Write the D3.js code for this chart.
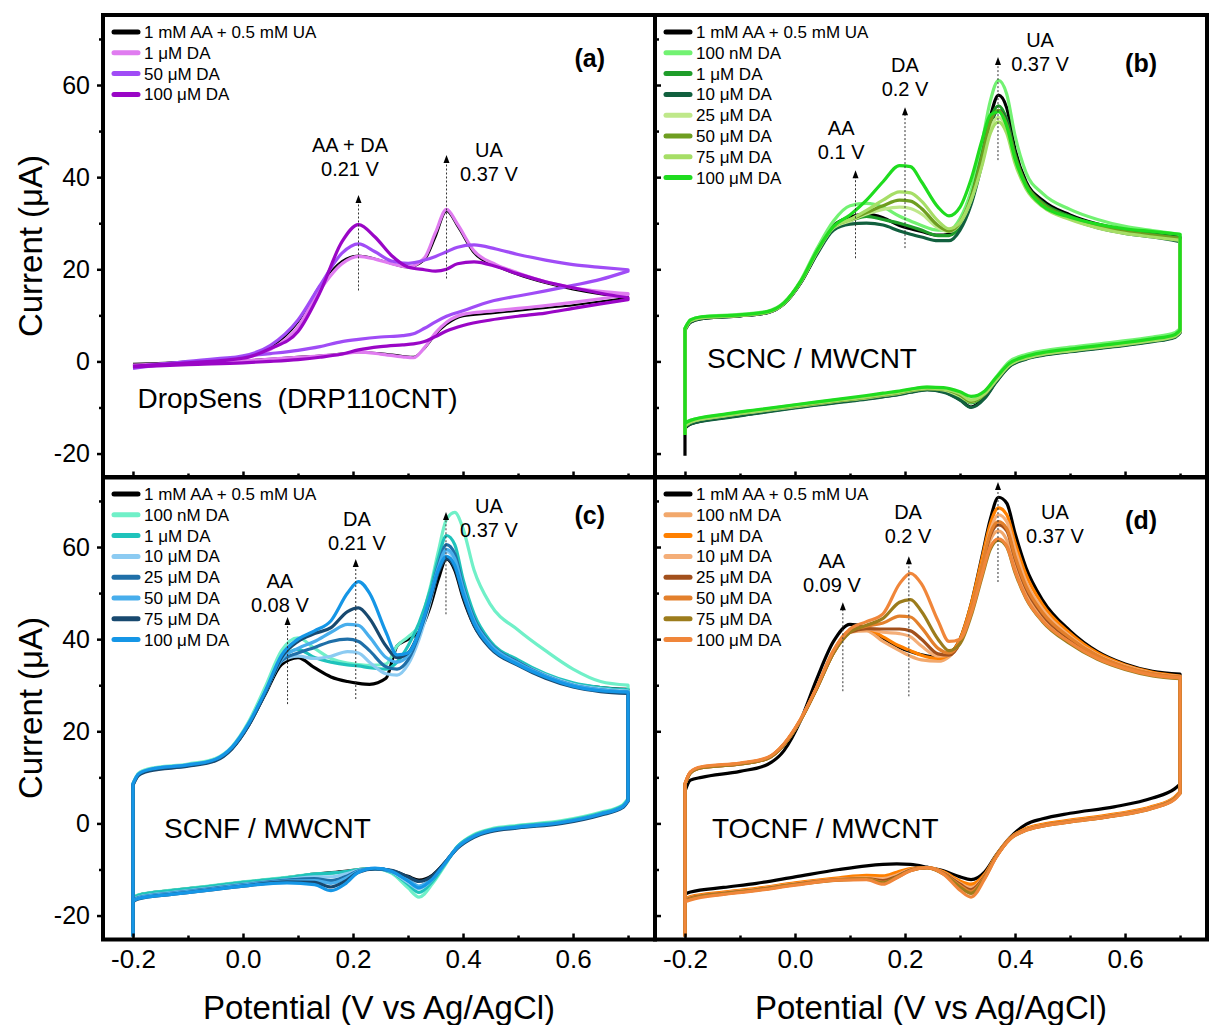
<!DOCTYPE html>
<html>
<head>
<meta charset="utf-8">
<script src="https://cdn.jsdelivr.net/npm/d3@7"></script>
<style>
body{margin:0;background:#fff;}
text{font-family:"Liberation Sans",Arial,sans-serif;fill:#000;}
</style>
</head>
<body>
<svg id="svg" width="1212" height="1025"></svg>
<script>
// potential grids (V vs Ag/AgCl), forward scan then reverse scan
var scanForwardA=[-0.2,-0.1,0.0,0.05,0.1,0.14,0.18,0.21,0.24,0.27,0.3,0.33,0.35,0.37,0.39,0.42,0.46,0.5,0.55,0.6,0.65,0.7];
var scanReverseA=[0.7,0.65,0.6,0.55,0.5,0.45,0.4,0.37,0.35,0.33,0.31,0.29,0.25,0.21,0.18,0.14,0.1,0.05,0.0,-0.1,-0.2];
var scanForward=[-0.2,-0.2,-0.19,-0.17,-0.1,-0.05,-0.02,0.01,0.04,0.07,0.1,0.13,0.16,0.19,0.21,0.23,0.26,0.28,0.3,0.32,0.34,0.355,0.37,0.385,0.4,0.42,0.45,0.5,0.55,0.6,0.65,0.7];
var scanReverse=[0.7,0.69,0.65,0.58,0.5,0.45,0.42,0.39,0.365,0.345,0.32,0.3,0.27,0.24,0.21,0.185,0.16,0.13,0.08,0.0,-0.07,-0.13,-0.19,-0.2];

// (a) DropSens, current in µA
var aBlank=[-0.5,0.0,1.0,3.0,8.5,16.5,21.8,23.0,22.3,21.2,20.4,22.0,27.0,32.6,29.3,23.5,20.7,18.8,17.0,15.6,14.6,14.0,
  13.8,13.0,12.2,11.6,11.0,10.4,9.8,8.0,5.8,2.8,1.0,1.2,1.8,2.0,1.7,1.3,1.0,0.6,0.2,-0.3,-0.8];
var a1uM=[-0.8,-0.2,0.8,2.6,7.5,15.5,21.2,22.8,22.2,21.2,20.5,22.5,28.0,33.0,29.8,24.0,21.0,19.2,17.3,16.0,15.2,14.7,
  14.5,13.6,12.8,12.1,11.5,10.9,10.2,8.5,6.2,3.0,0.8,1.0,1.6,2.0,1.6,1.2,0.9,0.5,0.1,-0.4,-0.9];
var a50uM=[-1.2,0.0,1.2,3.5,9.0,16.5,23.5,25.5,23.8,21.8,21.3,22.0,22.8,23.8,24.8,25.3,24.4,23.2,22.0,21.0,20.4,19.9,
  19.6,17.8,16.5,15.3,14.2,13.0,11.0,9.8,8.6,7.2,6.0,5.6,5.3,4.8,4.3,3.2,2.4,1.7,1.1,0.0,-1.5];
var a100uM=[-1.0,-0.3,0.7,2.8,6.5,15.0,26.0,29.7,27.0,23.0,20.5,19.9,19.6,20.0,21.2,21.6,20.6,19.0,17.3,16.0,14.8,13.8,
  13.4,12.5,11.5,10.5,9.8,9.0,7.8,6.6,5.4,4.3,3.8,3.6,3.2,2.5,1.6,0.9,0.4,0.0,-0.3,-0.7,-1.2];

// (b) SCNC / MWCNT
var bBlank=[-20.5,6.8,8.5,9.3,9.9,10.6,12.5,17,23.5,29.5,31.3,32,31.2,29.5,28.8,28.2,27.4,27.6,29.5,35,44.5,53,57.8,55,46,39,35,31.8,29.8,28.5,27.8,27,
  6.3,5.3,4.4,3.3,2.2,1.4,0.6,-1.0,-4.5,-7.8,-9.9,-8.3,-6.6,-6.1,-6.6,-7.2,-7.6,-8.1,-8.8,-10.0,-11.2,-12.2,-13.6,-14.5];
var b100nM=[-16,7.2,9.0,9.7,10.2,10.9,12.8,17.5,24.5,30.5,33.8,34.3,33.5,31.5,30.5,29.5,28.5,28.5,31,37,47.5,56.5,61,58,49,41,36.5,33,30.8,29.3,28.4,27.6,
  7.2,6.2,5.3,4.2,3.1,2.3,1.5,0,-3.5,-6.6,-8.4,-7.2,-6.0,-5.6,-6.1,-6.7,-7.1,-7.6,-8.3,-9.5,-10.6,-11.6,-12.8,-13.5];
var b1uM=[-16,7,8.7,9.5,10,10.7,12.6,17.2,23.8,29,30.5,31.5,30.8,30,29.3,28.5,27.3,27.3,29.5,35.5,45,52.5,55.5,52.5,45,38.5,34.5,31.5,29.6,28.4,27.6,26.8,
  6.6,5.6,4.7,3.6,2.5,1.7,0.9,-0.6,-4.0,-7.2,-9.0,-7.7,-6.3,-5.9,-6.4,-7.0,-7.4,-7.9,-8.6,-9.8,-10.9,-11.9,-13.2,-14];
var b10uM=[-16,6.8,8.5,9.3,9.9,10.6,12.5,17,23.3,28.5,29.8,30,29.6,28.3,27.6,27,26.2,26.2,28.5,34,43,51,54.5,52,44.5,38,34,31,29,27.8,27,26,
  6.2,5.2,4.3,3.2,2.1,1.3,0.5,-1.1,-4.6,-8.0,-10.0,-8.4,-6.7,-6.2,-6.7,-7.3,-7.7,-8.2,-8.9,-10.1,-11.3,-12.3,-13.6,-14.2];
var b25uM=[-16,7,8.8,9.5,10,10.7,12.6,17.2,23.8,29,30.5,32,33,33.5,33.2,32,29,28.2,30,35,43.5,50.5,53,50.5,44,38,34,31,29.2,28,27.2,26.5,
  6.6,5.6,4.7,3.6,2.5,1.7,0.9,-0.6,-4.0,-7.0,-8.8,-7.5,-6.2,-5.9,-6.4,-7.0,-7.4,-7.9,-8.6,-9.8,-10.9,-11.9,-13.2,-14];
var b50uM=[-16,7,8.8,9.5,10,10.7,12.6,17.2,23.8,29.2,30.8,32.3,33.8,35,34.8,33.2,29.5,28.3,30.2,35.5,44.5,52,54.5,51.5,44.5,38.3,34.2,31.2,29.4,28.2,27.4,26.7,
  6.5,5.5,4.6,3.5,2.4,1.6,0.8,-0.7,-4.1,-7.1,-8.7,-7.3,-6.1,-5.9,-6.3,-6.9,-7.3,-7.8,-8.5,-9.7,-10.8,-11.8,-13.1,-14];
var b75uM=[-16,7,8.8,9.5,10,10.7,12.6,17.2,23.8,29.2,30.8,32.8,35,36.8,36.6,34.8,30.5,28.8,30.2,35,42.5,49.5,52,49.5,43,37.5,33.6,30.8,29,27.8,27,26.3,
  6.4,5.4,4.5,3.4,2.3,1.5,0.7,-0.8,-4.2,-7.0,-8.4,-7.0,-6.0,-5.8,-6.2,-6.8,-7.2,-7.7,-8.4,-9.6,-10.8,-11.8,-13.1,-14];
var b100uM=[-16,7.2,9.0,9.7,10.1,10.8,12.7,17.3,24,29.3,31.8,35,39,42.5,42.3,39,33.5,31.6,33.5,39.5,48,53.5,54.2,51,44,38,33.8,31.3,29.8,28.8,28.2,27.6,
  6.8,5.8,4.9,3.8,2.7,1.9,1.1,-0.4,-3.6,-6.4,-7.6,-6.6,-5.7,-5.6,-6.0,-6.5,-6.9,-7.4,-8.2,-9.4,-10.5,-11.5,-12.8,-13.4];

// (c) SCNF / MWCNT
var cBlank=[-24.5,8.5,10.6,11.6,12.6,13.8,16.3,21.3,28,34.5,36,33.8,31.8,30.8,30.4,30.2,31.5,38.5,40,41.5,47,53,57.4,55,49,43,38.3,34.8,32.2,30.3,29.5,29.1,
  5.0,3.6,2.0,0.2,-0.8,-1.6,-2.8,-5.2,-8.8,-11.2,-12.3,-11.5,-10.3,-9.8,-10.0,-10.4,-10.7,-11.0,-11.8,-12.8,-13.8,-14.6,-15.6,-16.2];
var c100nM=[-24.5,8.7,10.9,11.9,12.9,14.1,16.7,22,29.5,37.5,40.3,38,35.8,34.8,34.5,34.3,34.6,38.5,40.5,43,51,59,66,67.5,64,55,47.5,42,37.5,33.5,30.8,30,
  5.4,4.0,2.4,0.6,-0.4,-1.2,-2.4,-5.0,-9.5,-13.0,-16.0,-14.0,-10.8,-9.8,-10.0,-10.5,-10.8,-11.0,-11.7,-12.7,-13.7,-14.5,-15.5,-16.0];
var c1uM=[-24.5,8.5,10.7,11.7,12.7,13.9,16.5,21.6,28.5,35.5,37.8,36,35,34.4,34.2,33.8,33.5,35,38.5,43.5,50.5,57.5,62.5,60.5,53,45.5,39.5,35.5,32.5,30.5,29.5,29,
  5.2,3.8,2.2,0.4,-0.6,-1.4,-2.6,-5.0,-9.2,-12.5,-15.0,-13.2,-10.6,-9.8,-10.0,-10.5,-10.8,-11.0,-11.8,-12.8,-13.8,-14.6,-15.6,-16.2];
var c10uM=[-24.5,8.5,10.7,11.7,12.7,13.9,16.5,21.5,28.3,35.2,36.3,35.8,36.3,37.3,37,35,32.5,32.2,34.5,40,48,55,59,57,50.5,44,38.8,35,32.2,30.2,29.2,28.7,
  5.0,3.6,2.0,0.2,-0.8,-1.6,-2.8,-5.2,-9.0,-12.0,-14.2,-12.8,-10.5,-9.8,-10.2,-11.0,-11.6,-11.6,-12.2,-13.2,-14.2,-15.0,-16.0,-16.6];
var c25uM=[-24.5,8.5,10.6,11.6,12.6,13.8,16.4,21.4,28.2,35.3,37,38.2,39.5,40,39.5,37.5,34,33.5,35.5,41,49,56,60.5,58.5,51.5,44.5,39,35,32,30,29,28.5,
  5.0,3.6,2.0,0.2,-0.8,-1.6,-2.8,-5.2,-8.9,-11.8,-13.8,-12.4,-10.4,-9.8,-10.3,-11.6,-12.4,-12.0,-12.3,-13.3,-14.3,-15.1,-16.1,-16.7];
var c50uM=[-24.5,8.5,10.6,11.6,12.6,13.8,16.4,21.5,28.4,35.6,38,39.5,41.5,43.2,43,40.5,36,35,36.5,41.5,49,55.5,59.5,57.5,51,44,38.8,34.8,32,30,29,28.5,
  5.0,3.6,2.0,0.2,-0.8,-1.6,-2.8,-5.2,-8.9,-11.8,-13.6,-12.2,-10.3,-9.8,-10.4,-12.0,-13.0,-12.4,-12.5,-13.4,-14.4,-15.2,-16.2,-16.8];
var c75uM=[-24.5,8.3,10.4,11.4,12.4,13.6,16.2,21.2,28.2,36,39.5,41.2,42.5,46,46.8,44.5,38.5,36,37,41.5,48.5,54.5,57.5,55.5,49.5,43,38,34.3,31.5,29.6,28.6,28.2,
  4.8,3.4,1.8,0.0,-1.0,-1.8,-3.0,-5.4,-8.8,-11.3,-12.6,-11.6,-10.2,-9.9,-10.6,-12.6,-13.8,-12.8,-12.7,-13.6,-14.6,-15.4,-16.4,-17.0];
var c100uM=[-24.5,8.5,10.7,11.7,12.7,13.9,16.5,21.6,28.6,36.5,40,41.8,44,50,52.5,50,41.5,36.6,37,41.5,49,55,58,56,50,43.5,38.3,34.5,31.8,29.8,28.8,28.5,
  5.0,3.6,2.0,0.2,-0.8,-1.6,-2.8,-5.2,-9.0,-12.0,-14.0,-12.5,-10.4,-9.7,-10.6,-13.2,-14.6,-13.3,-12.9,-13.6,-14.6,-15.4,-16.3,-16.9];

// (d) TOCNF / MWCNT
var dBlank=[-24.5,7,9.4,10.0,11.3,12.8,15.8,22.3,31.5,39.5,43.2,42.5,40.2,38.2,37.3,36.6,36.1,36.8,40,47.5,58,66,70.8,69.5,63,55.5,48.5,41.8,37.3,34.6,33,32.4,
  8.5,7.5,5.5,3.6,2.2,1.0,-0.2,-3.2,-7.0,-10.5,-12.2,-11.6,-10.3,-9.5,-8.9,-8.8,-8.9,-9.2,-10.0,-11.6,-13.0,-13.9,-14.9,-15.3];
var d100nM=[-24.5,8.5,11.0,12.1,12.9,14.1,17.1,22.4,29.5,37,41.5,41.8,39.5,37.5,36.3,35.5,35.2,36.2,39.5,46.5,55.5,61.5,63.5,61.5,56,50,44.8,39.8,36.3,34,32.4,31.8,
  6.8,5.6,3.6,1.9,0.6,-0.3,-1.2,-3.3,-7.2,-11.2,-13.6,-12.8,-10.6,-9.6,-10.0,-11.0,-11.8,-11.6,-12.0,-13.0,-14.2,-15.0,-16.0,-16.5];
var d1uM=[-24.5,8.5,11.1,12.2,13,14.2,17.2,22.5,29.6,37.5,41.8,42.3,40.5,38.5,37.5,36.5,35.8,36.7,40,47.5,57.5,65,68.5,67,61,54,47.5,41.3,37,34.4,32.8,32,
  6.9,5.7,3.7,2.0,0.7,-0.2,-1.1,-3.3,-7.1,-11.0,-13.2,-12.5,-10.5,-9.6,-9.8,-10.6,-11.4,-11.3,-11.8,-12.9,-14.1,-14.9,-15.9,-16.4];
var d10uM=[-24.5,8.5,11.0,12.1,12.9,14.1,17.1,22.4,29.5,37.2,41.6,42.2,41.5,41.2,40.5,38.5,36.3,36.5,39.5,46.5,56,63.5,67,65.5,59.5,52.5,46.5,40.6,36.6,34.2,32.6,31.9,
  6.7,5.5,3.5,1.8,0.5,-0.4,-1.3,-3.4,-7.3,-11.3,-14.0,-13.0,-10.7,-9.6,-10.0,-11.2,-12.0,-11.8,-12.1,-13.1,-14.3,-15.1,-16.1,-16.6];
var d25uM=[-24.5,8.5,11.0,12.1,12.9,14.1,17.1,22.4,29.4,37,41.5,42.3,42.2,42.2,41.8,40,36.8,36.5,39.2,46,55.5,62.5,64.8,63.5,57.5,51,45.3,40,36.3,33.9,32.4,31.7,
  6.6,5.4,3.4,1.7,0.4,-0.5,-1.4,-3.4,-7.3,-11.4,-14.4,-13.2,-10.8,-9.6,-10.1,-11.5,-12.4,-12.0,-12.2,-13.2,-14.4,-15.2,-16.2,-16.7];
var d50uM=[-24.5,8.5,11.1,12.2,13,14.2,17.2,22.5,29.5,37,41.8,42.8,43.5,45,44.8,42.5,38,37,39.5,46.5,56,63,65.5,64,58,51.5,45.8,40.3,36.4,34,32.5,31.8,
  6.6,5.4,3.4,1.7,0.4,-0.5,-1.4,-3.4,-7.4,-11.6,-14.8,-13.5,-10.9,-9.6,-10.2,-11.8,-12.8,-12.0,-12.2,-13.3,-14.5,-15.3,-16.3,-16.8];
var d75uM=[-24.5,8.5,11.0,12.1,12.9,14.1,17.1,22.4,29.4,37,41.5,43,44.5,48,48.6,46,40,37.5,39,45,53.5,59.5,61.5,60,54.5,48.8,43.8,39,35.6,33.4,32,31.4,
  6.5,5.3,3.3,1.6,0.3,-0.6,-1.5,-3.5,-7.4,-11.8,-15.2,-13.8,-11.0,-9.6,-10.2,-11.6,-12.9,-12.1,-12.3,-13.3,-14.5,-15.3,-16.4,-16.9];
var d100uM=[-24.5,8.7,11.2,12.3,13.1,14.3,17.3,22.6,29.7,37.5,42.2,43.8,45.5,52,54.3,52,44,39.5,40,45.5,54,60,61.8,60.2,54.8,49,44,39.3,35.8,33.6,32.2,31.6,
  6.5,5.2,3.3,1.6,0.3,-0.6,-1.5,-3.5,-7.5,-12.0,-16.0,-14.5,-11.0,-9.6,-10.3,-11.8,-13.2,-12.2,-12.3,-13.4,-14.6,-15.4,-16.6,-17.0];

var legendA=["1 mM AA + 0.5 mM UA","1 μM DA","50 μM DA","100 μM DA"];
var legendBCD=["1 mM AA + 0.5 mM UA","100 nM DA","1 μM DA","10 μM DA","25 μM DA","50 μM DA","75 μM DA","100 μM DA"];
var colorsA=["#000000","#e07cf0","#a04cf6","#9a06c6"];
var colorsB=["#000000","#72f272","#1f9d2a","#11603e","#bfe88a","#6e9e20","#a6de66","#1fdc1f"];
var colorsC=["#000000","#70f0c8","#1fc3bb","#8ccbf2","#1f6fa8","#48aeec","#18496f","#1596e6"];
var colorsD=["#000000","#f2a86c","#ff8000","#f4ae78","#a2501c","#e3802c","#9c7c1c","#f0863a"];

var xTicks=[-0.2,0.0,0.2,0.4,0.6], xMinor=[-0.1,0.1,0.3,0.5,0.7];
var yTicks=[-20,0,20,40,60], yMinor=[-10,10,30,50,70];

// peak markers: label lines, label anchor (V, µA), arrow potential, arrow from/to (µA)
var notesA=[{t:["AA + DA","0.21 V"],tx:0.1945,ty:45.4,v:0.21,from:15.4,to:36.1},
            {t:["UA","0.37 V"],tx:0.447,ty:44.3,v:0.37,from:18,to:44.8}];
var notesB=[{t:["AA","0.1 V"],tx:0.084,ty:49.1,v:0.11,from:22.4,to:41.5},
            {t:["DA","0.2 V"],tx:0.2,ty:62.8,v:0.2,from:24.6,to:55.2},
            {t:["UA","0.37 V"],tx:0.4455,ty:68.3,v:0.369,from:43.7,to:66.1}];
var notesC=[{t:["AA","0.08 V"],tx:0.067,ty:51.1,v:0.081,from:25.9,to:44.8},
            {t:["DA","0.21 V"],tx:0.207,ty:64.6,v:0.205,from:27,to:57.4},
            {t:["UA","0.37 V"],tx:0.447,ty:67.4,v:0.369,from:45.4,to:67.6}];
var notesD=[{t:["AA","0.09 V"],tx:0.067,ty:55.4,v:0.087,from:28.7,to:48},
            {t:["DA","0.2 V"],tx:0.2055,ty:66.1,v:0.207,from:27.6,to:58},
            {t:["UA","0.37 V"],tx:0.4727,ty:66.1,v:0.369,from:52.4,to:74.1}];

var panelW=552, panelH=462.5;
var panels=[
  {id:"a",x0:103,y0:15,fwd:scanForwardA,rev:scanReverseA,series:[aBlank,a1uM,a50uM,a100uM],colors:colorsA,labels:legendA,
   tag:"(a)",tagY:52,name:"DropSens  (DRP110CNT)",nameX:34.5,nameY:393,left:true,bottom:false,notes:notesA},
  {id:"b",x0:655,y0:15,fwd:scanForward,rev:scanReverse,series:[bBlank,b100nM,b1uM,b10uM,b25uM,b50uM,b75uM,b100uM],colors:colorsB,labels:legendBCD,
   tag:"(b)",tagY:57,name:"SCNC / MWCNT",nameX:52,nameY:353,left:false,bottom:false,notes:notesB},
  {id:"c",x0:103,y0:477,fwd:scanForward,rev:scanReverse,series:[cBlank,c100nM,c1uM,c10uM,c25uM,c50uM,c75uM,c100uM],colors:colorsC,labels:legendBCD,
   tag:"(c)",tagY:47,name:"SCNF / MWCNT",nameX:61,nameY:361,left:true,bottom:true,notes:notesC},
  {id:"d",x0:655,y0:477,fwd:scanForward,rev:scanReverse,series:[dBlank,d100nM,d1uM,d10uM,d25uM,d50uM,d75uM,d100uM],colors:colorsD,labels:legendBCD,
   tag:"(d)",tagY:52,name:"TOCNF / MWCNT",nameX:57,nameY:361,left:false,bottom:true,notes:notesD}
];

var svg=d3.select("#svg");
var defs=svg.append("defs");

panels.forEach(function(p){
  var x=d3.scaleLinear().domain([-0.2545,0.749]).range([0,panelW]);
  var y=d3.scaleLinear().domain([-25.2,75.2]).range([panelH,0]);
  var g=svg.append("g").attr("transform","translate("+p.x0+","+p.y0+")");

  defs.append("clipPath").attr("id","clip-"+p.id)
    .append("rect").attr("width",panelW).attr("height",panelH);

  //each scan branch is monotone in potential; vertical switching steps are straight
  var line=d3.line()
      .x(function(d){return x(d[0]);})
      .y(function(d){return y(d[1]);})
      .curve(d3.curveMonotoneX);
  function branch(pot,vals){
    var pts=pot.map(function(v,i){return [v,vals[i]];});
    var out=[], cur=[pts[0]];
    for(var i=1;i<pts.length;i++){
      if(pts[i][0]===cur[cur.length-1][0]){out.push(cur);cur=[cur[cur.length-1],pts[i]];out.push(cur);cur=[pts[i]];}
      else cur.push(pts[i]);
    }
    out.push(cur);
    return out.filter(function(c){return c.length>1;})
      .map(function(c,k){var s=line(c);return k?s.replace(/^M/,"L"):s;}).join("");
  }
  function loop(s){
    var nf=p.fwd.length;
    var f=branch(p.fwd,s.slice(0,nf));
    var r=branch(p.rev,s.slice(nf)).replace(/^M/,"L");
    return f+r;
  }

  //curves
  g.append("g").attr("clip-path","url(#clip-"+p.id+")")
    .selectAll("path")
    .data(p.series).enter().append("path")
      .attr("d",loop)
      .attr("fill","none")
      .attr("stroke",function(s,i){return p.colors[i];})
      .attr("stroke-width",function(s,i){return (p.id=="a"&&i==0)?2:3.2;})
      .attr("stroke-linejoin","round");

  //x axis, ticks inward
  var xa=g.append("g").attr("transform","translate(0,"+panelH+")")
    .call(d3.axisBottom(x).tickValues(xTicks).tickSize(-6).tickPadding(10)
      .tickFormat(p.bottom?function(d){return d.toFixed(1);}:""));
  g.append("g").attr("transform","translate(0,"+panelH+")")
    .call(d3.axisBottom(x).tickValues(xMinor).tickSize(-4).tickFormat(""));

  //y axis
  var tk=p.left?6:-6, tm=p.left?4:-4;
  g.append("g")
    .call(d3.axisLeft(y).tickValues(yTicks).tickSize(tk).tickPadding(7)
      .tickFormat(p.left?function(d){return String(d);}:""));
  g.append("g")
    .call(d3.axisLeft(y).tickValues(yMinor).tickSize(tm).tickFormat(""));

  g.selectAll(".domain").remove();
  g.selectAll(".tick line").attr("stroke","#000").attr("stroke-width",2.5);
  g.selectAll(".tick text").style("font-size","25px")
    .style("font-family","'Liberation Sans',Arial,sans-serif").attr("fill","#000");
  xa.selectAll(".tick text").style("font-size","26px");

  //frame
  g.append("rect").attr("width",panelW).attr("height",panelH)
    .attr("fill","none").attr("stroke","#000").attr("stroke-width",4);

  //legend
  var lg=g.selectAll(".leg").data(p.labels).enter().append("g")
      .attr("transform",function(d,i){return "translate(0,"+(17+i*20.8)+")";});
  lg.append("line").attr("x1",11).attr("x2",35)
    .attr("stroke",function(d,i){return p.colors[i];})
    .attr("stroke-width",5).attr("stroke-linecap","round");
  lg.append("text").attr("x",41).attr("y",6).style("font-size","17px").text(function(d){return d;});

  //tag and sample name
  g.append("text").attr("x",panelW-50).attr("y",p.tagY).attr("text-anchor","end")
    .style("font-size","25px").style("font-weight","bold").text(p.tag);
  g.append("text").attr("x",p.nameX).attr("y",p.nameY).style("font-size","28px")
    .style("white-space","pre").text(p.name);

  //peak annotations
  p.notes.forEach(function(n){
    var ax=x(n.v), top=y(n.to);
    g.append("line").attr("x1",ax).attr("x2",ax).attr("y1",y(n.from)).attr("y2",top+6)
      .attr("stroke","#333").attr("stroke-width",1).attr("stroke-dasharray","2,2");
    g.append("path").attr("d","M"+ax+","+top+"L"+(ax-3)+","+(top+8)+"L"+(ax+3)+","+(top+8)+"Z")
      .attr("fill","#000");
    n.t.forEach(function(s,k){
      g.append("text").attr("x",x(n.tx)).attr("y",y(n.ty)+k*24)
        .attr("text-anchor","middle").style("font-size","20px").text(s);
    });
  });
});

//axis titles
[246,708].forEach(function(cy){
  svg.append("text").attr("transform","translate(42,"+cy+") rotate(-90)")
    .attr("text-anchor","middle").style("font-size","33px").text("Current (μA)");
});
[379,931].forEach(function(cx){
  svg.append("text").attr("x",cx).attr("y",1019)
    .attr("text-anchor","middle").style("font-size","33px").text("Potential (V vs Ag/AgCl)");
});
</script>
</body>
</html>
